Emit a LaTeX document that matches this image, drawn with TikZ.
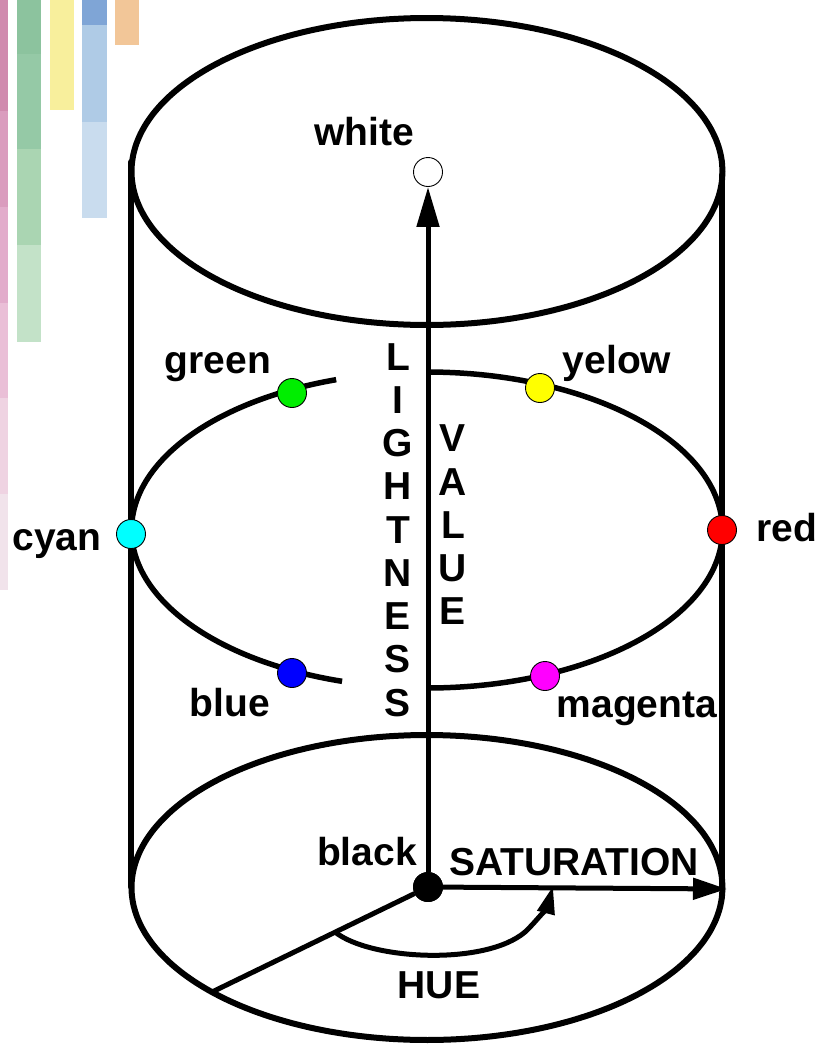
\documentclass[tikz,border=0pt]{standalone}
\usepackage{fontspec}
\setmainfont{Liberation Sans}
\usetikzlibrary{arrows.meta}
\definecolor{pk1}{HTML}{D08AAE}
\definecolor{pk2}{HTML}{DA9CBE}
\definecolor{pk3}{HTML}{E2ACCB}
\definecolor{pk4}{HTML}{EABFD7}
\definecolor{pk5}{HTML}{EFD3E2}
\definecolor{pk6}{HTML}{F1E3EB}
\definecolor{gr1}{HTML}{8CC39E}
\definecolor{gr2}{HTML}{95C9A6}
\definecolor{gr3}{HTML}{AAD5B2}
\definecolor{gr4}{HTML}{C3E2C8}
\definecolor{yl1}{HTML}{F8EF9C}
\definecolor{bl1}{HTML}{7FA5D6}
\definecolor{bl2}{HTML}{AFCBE6}
\definecolor{bl3}{HTML}{C9DCEE}
\definecolor{or1}{HTML}{F2C698}
\definecolor{dgreen}{RGB}{0,238,0}
\definecolor{dyellow}{RGB}{255,255,0}
\definecolor{dcyan}{RGB}{0,255,255}
\definecolor{dred}{RGB}{255,0,0}
\definecolor{dblue}{RGB}{0,0,255}
\definecolor{dmagenta}{RGB}{255,0,255}
\begin{document}
\begin{tikzpicture}[x=1pt,y=-1pt,
  cyl/.style={line width=6pt, line cap=round, line join=round},
  ring/.style={line width=5.5pt, line cap=butt},
  axisline/.style={line width=5pt},
  dot/.style={circle, draw=black, line width=0.9pt, minimum size=29pt, inner sep=0pt},
  lab/.style={font=\fontsize{39}{44}\selectfont\bfseries, inner sep=0pt, anchor=base},
  stack/.style={font=\fontsize{39}{43.25}\selectfont\bfseries, inner sep=0pt, align=center},
  bigtip/.style={-{Triangle[length=40pt,width=22pt]}},
  sattip/.style={-{Triangle[length=34pt,width=21pt]}},
  huetip/.style={-{Triangle[length=28pt,width=17pt]}}
]
\useasboundingbox (0,0) rectangle (821,1045);
% decorative bars
\fill[pk1] (0,0) rectangle (8,111);
\fill[pk2] (0,111) rectangle (8,207);
\fill[pk3] (0,207) rectangle (8,303);
\fill[pk4] (0,303) rectangle (8,398);
\fill[pk5] (0,398) rectangle (8,494);
\fill[pk6] (0,494) rectangle (8,590);
\fill[gr1] (17,0) rectangle (41,54);
\fill[gr2] (17,54) rectangle (41,149);
\fill[gr3] (17,149) rectangle (41,245);
\fill[gr4] (17,245) rectangle (41,342);
\fill[yl1] (50,0) rectangle (74,110);
\fill[bl1] (82,0) rectangle (107,25);
\fill[bl2] (82,25) rectangle (107,122);
\fill[bl3] (82,122) rectangle (107,218);
\fill[or1] (115,0) rectangle (139,45);
% cylinder
\draw[cyl] plot[domain=0:360, samples=90, smooth] ({427+295.5*cos(\x)},{171.5+153.5*sin(\x)});
\draw[cyl] plot[domain=0:360, samples=90, smooth] ({427+295.5*cos(\x)},{887.5+152.5*sin(\x)});
\draw[cyl] (131,162) -- (131,887);
\draw[cyl] (722,175) -- (722,889);
% middle ring (broken at the axis)
\draw[ring] plot[domain=-90:90, samples=60, smooth] ({427+295.5*cos(\x)},{530+158*sin(\x)});
\draw[ring] plot[domain=-107.9:-253.3, samples=60, smooth] ({427+295.5*cos(\x)},{530+158*sin(\x)});
% nodes
\node[dot, fill=white] (white) at (428,172) {};
\node[dot, fill=black] (black) at (428,887) {};
\node[dot, fill=dgreen] (green) at (292,393) {};
\node[dot, fill=dyellow] (yellow) at (540,388) {};
\node[dot, fill=dcyan] (cyan) at (131,534) {};
\node[dot, fill=dred] (red) at (722,530) {};
\node[dot, fill=dblue] (blue) at (292,673) {};
\node[dot, fill=dmagenta] (magenta) at (545,676) {};
\coordinate (satend) at (727,889);
\coordinate (radend) at (212,992);
\coordinate (huestart) at (335,932);
\coordinate (hueend) at (553,886);
% axes
\draw[axisline, bigtip] (black) -- (white);
\draw[axisline, sattip] (black) -- (satend);
\draw[axisline] (black) -- (radend);
\draw[axisline, huetip] (huestart) .. controls (370,960) and (485,966) .. (525,932)
   .. controls (535,923) and (548,905) .. (hueend);
\node[dot, fill=black] at (black) {};
% labels
\node[lab] (lwhite) at (364,145) {white};
\node[lab] (lgreen) at (218,373) {green};
\node[lab] (lyellow) at (617,373) {yelow};
\node[lab] (lcyan) at (57,550) {cyan};
\node[lab] (lred) at (787,541) {red};
\node[lab] (lblue) at (230,716) {blue};
\node[lab] (lmagenta) at (637,717) {magenta};
\node[lab] (lblack) at (367,865) {black};
\node[lab] (lsat) at (574,875) {SATURATION};
\node[lab] (lhue) at (439,998) {HUE};
\node[stack] (light) at (398,530) {L\\I\\G\\H\\T\\N\\E\\S\\S};
\node[stack] (val) at (453,525) {V\\A\\L\\U\\E};
\end{tikzpicture}
\end{document}
